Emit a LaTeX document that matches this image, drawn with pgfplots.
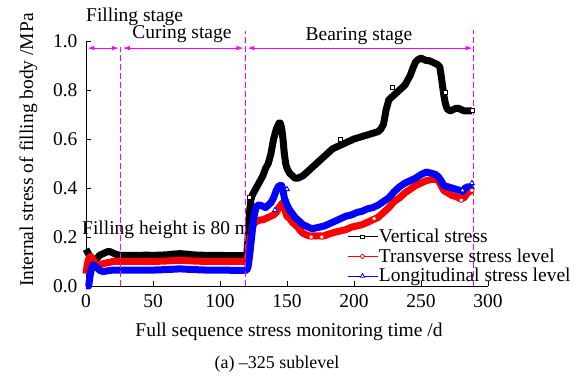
\documentclass[border=0pt]{standalone}
\usepackage{pgfplots}
\pgfplotsset{compat=1.18}
\usepackage{fontspec}
\setmainfont{Liberation Serif}
\usetikzlibrary{arrows.meta}
\definecolor{mag}{RGB}{255,0,255}
\definecolor{myred}{RGB}{255,0,0}
\definecolor{myblue}{RGB}{0,0,255}

\begin{document}
\begin{tikzpicture}
\begin{axis}[
  scale only axis,
  width=402pt, height=245pt,
  xmin=0, xmax=300, ymin=0, ymax=1.0,
  axis lines=left,
  axis line style={-, line width=0.8pt},
  tick align=inside,
  major tick length=5pt,
  tick style={line width=0.8pt, black},
  xtick={0,50,100,150,200,250,300},
  ytick={0,0.2,0.4,0.6,0.8,1.0},
  /pgf/number format/assume math mode=true,
  yticklabel style={/pgf/number format/fixed, /pgf/number format/zerofill, /pgf/number format/precision=1, xshift=-5pt},
  xticklabel style={yshift=-5pt},
  ticklabel style={font=\fontsize{19.5}{20}\selectfont},
  clip=false,
  legend style={at={(0.649,0.236)}, anchor=north west, draw=none, fill=none, inner sep=0pt,
    font=\fontsize{19.5}{20}\selectfont, row sep=2.5pt,
    nodes={inner sep=1pt}},
  legend cell align=left,
  legend image code/.code={\draw[mark repeat=2,mark phase=2,#1] plot coordinates {(0pt,0pt) (15pt,0pt) (30pt,0pt)};},
]
% Vertical stress
\addplot[black, line width=7pt, line join=round, forget plot] table {
0 0.15
1 0.14
2 0.13
3 0.12
4 0.11
5 0.105
6 0.105
8 0.11
10 0.125
12 0.13
14 0.135
16 0.14
18 0.14
20 0.135
22 0.13
24 0.127
26 0.125
30 0.125
35 0.125
40 0.125
45 0.126
50 0.125
55 0.126
60 0.127
65 0.13
70 0.132
75 0.13
80 0.127
85 0.126
90 0.125
95 0.125
100 0.125
105 0.124
110 0.124
115 0.124
119 0.124
120 0.13
121 0.2
122 0.3
123 0.35
124 0.37
126 0.39
128 0.41
130 0.43
132 0.45
134 0.48
136 0.5
138 0.54
140 0.6
142 0.64
144 0.665
145 0.665
146 0.645
147 0.6
148 0.54
149 0.5
150 0.48
152 0.46
154 0.45
156 0.44
158 0.44
160 0.445
162 0.45
164 0.46
166 0.47
168 0.48
170 0.49
172 0.5
174 0.51
176 0.52
178 0.53
180 0.54
182 0.55
184 0.56
186 0.565
188 0.57
190 0.575
192 0.58
194 0.585
196 0.59
198 0.595
200 0.6
203 0.605
206 0.61
209 0.615
212 0.62
215 0.625
218 0.63
220 0.64
222 0.66
223 0.69
224 0.72
225 0.74
226 0.76
228 0.77
230 0.78
232 0.79
234 0.8
236 0.81
238 0.82
240 0.84
242 0.86
244 0.89
246 0.915
248 0.925
250 0.93
252 0.925
254 0.92
256 0.92
258 0.915
260 0.91
262 0.905
264 0.895
265 0.86
266 0.82
267 0.78
268 0.75
269 0.73
270 0.72
272 0.715
274 0.72
276 0.725
278 0.725
280 0.72
282 0.715
284 0.715
286 0.715
288 0.715
};
\addplot[black, only marks, mark=square*, mark size=2pt, mark options={fill=white, line width=0.8pt}, forget plot] coordinates {
(190,0.6) (229,0.81) (268,0.79) (288,0.715) (122,0.36)
};
% Transverse
\addplot[myred, line width=7pt, line join=round, forget plot] table {
0 0.05
1 0.09
2 0.11
3 0.12
4 0.12
5 0.11
6 0.1
7 0.09
8 0.085
10 0.085
12 0.09
14 0.093
16 0.095
18 0.097
20 0.1
25 0.1
30 0.1
40 0.1
50 0.1
60 0.102
70 0.105
80 0.102
90 0.1
100 0.1
110 0.1
119 0.1
120 0.1
121 0.13
122 0.17
123 0.21
124 0.24
126 0.26
128 0.265
130 0.27
132 0.27
134 0.275
136 0.28
138 0.285
140 0.29
142 0.3
144 0.32
146 0.335
147 0.34
148 0.33
149 0.3
150 0.285
152 0.275
154 0.26
156 0.25
158 0.24
160 0.225
162 0.215
164 0.21
166 0.205
168 0.205
170 0.205
172 0.205
175 0.205
178 0.205
180 0.21
183 0.215
186 0.22
190 0.225
194 0.23
198 0.24
202 0.245
206 0.25
210 0.26
214 0.27
218 0.28
222 0.3
226 0.32
230 0.345
234 0.36
238 0.38
242 0.395
246 0.41
250 0.42
254 0.43
258 0.435
261 0.435
263 0.43
265 0.41
267 0.39
270 0.38
273 0.37
276 0.365
278 0.36
280 0.355
282 0.36
284 0.375
286 0.385
288 0.39
};
\addplot[myred, only marks, mark=*, mark size=2.2pt, mark options={fill=white, line width=0.8pt}, forget plot] coordinates {
(215,0.275) (280,0.35) (288,0.39) (168,0.2) (176,0.2)
};
% Longitudinal
\addplot[myblue, line width=7pt, line join=round, forget plot] table {
0 0.0
2 0.0
3 0.04
4 0.07
5 0.085
6 0.085
8 0.075
10 0.065
12 0.06
14 0.06
16 0.062
20 0.065
30 0.065
40 0.065
50 0.065
60 0.067
70 0.07
80 0.067
90 0.065
100 0.065
110 0.064
119 0.064
120 0.065
121 0.08
122 0.12
123 0.17
124 0.22
125 0.27
126 0.3
127 0.32
128 0.33
130 0.33
132 0.325
134 0.32
136 0.33
138 0.34
140 0.36
142 0.39
144 0.41
146 0.41
147 0.39
148 0.36
150 0.33
152 0.31
154 0.295
156 0.28
158 0.27
160 0.26
162 0.25
164 0.245
166 0.24
168 0.235
170 0.235
174 0.24
178 0.245
182 0.255
186 0.265
190 0.275
194 0.285
198 0.29
202 0.3
206 0.305
210 0.315
214 0.32
218 0.33
222 0.345
226 0.36
230 0.385
234 0.405
238 0.42
242 0.43
246 0.44
250 0.455
254 0.465
258 0.46
261 0.455
263 0.445
265 0.43
267 0.41
270 0.405
273 0.4
276 0.395
279 0.39
281 0.385
283 0.4
285 0.405
287 0.405
289 0.41
};
\addplot[myblue, only marks, mark=triangle*, mark size=2.8pt, mark options={fill=white, line width=0.8pt}, forget plot] coordinates {
(141,0.31) (150,0.395) (281,0.39) (288,0.42)
};
\addlegendimage{black, line width=0.8pt, mark=square*, mark size=1.8pt, mark options={fill=white}}
\addlegendentry{Vertical stress}
\addlegendimage{myred, line width=0.8pt, mark=*, mark size=2pt, mark options={fill=white}}
\addlegendentry{Transverse stress level}
\addlegendimage{myblue, line width=0.8pt, mark=triangle*, mark size=2.5pt, mark options={fill=white}}
\addlegendentry{Longitudinal stress level}
% stage lines
\draw[mag, line width=0.8pt, dash pattern=on 6pt off 3pt] (axis cs:26,0) -- (axis cs:26,0.975);
\draw[mag, line width=0.8pt, dash pattern=on 6pt off 3pt] (axis cs:119,0) -- (axis cs:119,1.04);
\draw[mag, line width=0.8pt, dash pattern=on 6pt off 3pt] (axis cs:289,0) -- (axis cs:289,1.045);
\draw[mag, line width=0.8pt, {Latex[length=7pt,width=4.5pt]}-{Latex[length=7pt,width=4.5pt]}] (axis cs:1,0.971) -- (axis cs:24.5,0.971);
\draw[mag, line width=0.8pt, {Latex[length=7pt,width=4.5pt]}-{Latex[length=7pt,width=4.5pt]}] (axis cs:27.5,0.971) -- (axis cs:117.5,0.971);
\draw[mag, line width=0.8pt, {Latex[length=7pt,width=4.5pt]}-{Latex[length=7pt,width=4.5pt]}] (axis cs:120.5,0.971) -- (axis cs:288.5,0.971);
\end{axis}
\begin{scope}[every node/.style={inner sep=0pt, font=\fontsize{19.5}{20}\selectfont}]
\node[anchor=base west] at (0pt,264pt) {Filling stage};
\node[anchor=base] at (96pt,247pt) {Curing stage};
\node[anchor=base] at (273pt,245pt) {Bearing stage};
\node[anchor=base west] at (-4pt,51pt) {Filling height is 80 m};
\node[anchor=base] at (203pt,-51pt) {Full sequence stress monitoring time /d};
\node[anchor=base, font=\fontsize{18}{19}\selectfont] at (191pt,-82pt) {(a) –325 sublevel};
\node[anchor=base, rotate=90] at (-53pt,136pt) {Internal stress of filling body /MPa};
\end{scope}
\pgfresetboundingbox
\path (-86pt,-93pt) rectangle (499pt,286pt);
\end{tikzpicture}
\end{document}
